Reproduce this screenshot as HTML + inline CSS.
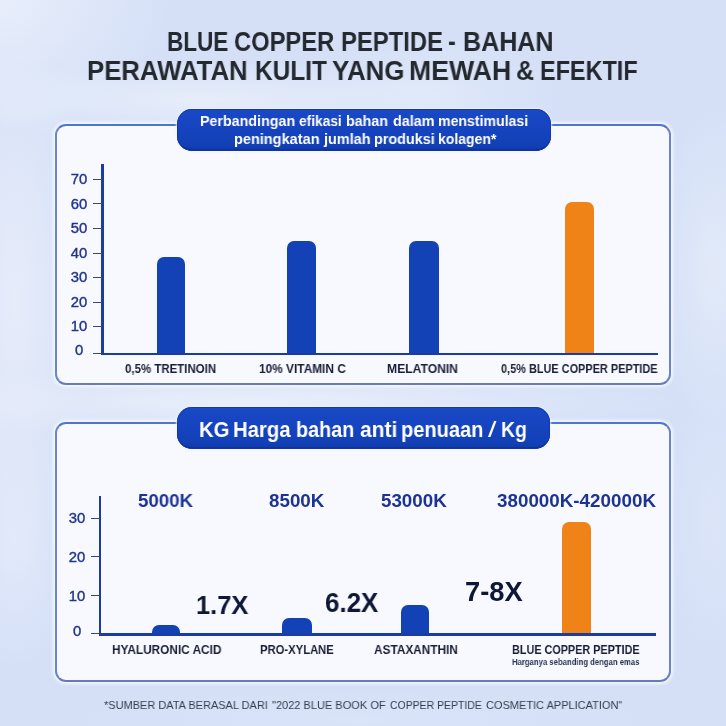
<!DOCTYPE html>
<html><head><meta charset="utf-8">
<style>
*{margin:0;padding:0;box-sizing:border-box}
html,body{width:726px;height:726px;overflow:hidden}
body{position:relative;font-family:"Liberation Sans",sans-serif;
background:
 radial-gradient(ellipse 170px 130px at 0px 0px, rgba(232,238,251,1), rgba(232,238,251,0)),
 radial-gradient(ellipse 300px 40px at 200px 100px, rgba(230,237,250,1), rgba(230,237,250,0)),
 radial-gradient(ellipse 130px 60px at 430px 95px, rgba(224,233,249,0.9), rgba(224,233,249,0)),
 radial-gradient(ellipse 70px 280px at 15px 300px, rgba(231,236,250,1), rgba(231,236,250,0)),
 radial-gradient(ellipse 60px 130px at 15px 540px, rgba(226,233,250,1), rgba(226,233,250,0)),
 radial-gradient(ellipse 60px 160px at 715px 270px, rgba(226,234,249,1), rgba(226,234,249,0)),
 radial-gradient(ellipse 50px 130px at 715px 520px, rgba(220,229,248,1), rgba(220,229,248,0)),
 radial-gradient(ellipse 430px 34px at 250px 402px, rgba(233,239,250,1), rgba(233,239,250,0)),
 radial-gradient(ellipse 300px 30px at 360px 720px, rgba(217,228,249,1), rgba(217,228,249,0)),
 #d5e0f7;}
.card{position:absolute;border:2px solid;border-color:#4e76cf #6c83c8 #677abd #6a86c5;border-radius:11px;background:#f8f9fe;box-shadow:0 0 3px 2px rgba(245,248,255,0.9)}
.pill{position:absolute;border-radius:15px;background:linear-gradient(180deg,#1a49c6 0%,#1644c0 45%,#1240b6 85%,#0f3aa8 100%);box-shadow:inset 0 0 0 1px rgba(20,55,170,0.9),inset 0 -1.5px 0 rgba(8,35,130,0.7),0 0 2px 1px rgba(240,244,255,0.8)}
.ax{position:absolute;background:#1c3ca5}
.tk{position:absolute;background:#3a4682;height:1.2px;width:9px}
.bar{position:absolute;background:#1341b6;border-radius:7px 7px 0 0}
.bar.o{background:#ef8318}
.t{position:absolute;white-space:nowrap;transform-origin:0 0;will-change:transform}
</style></head><body>
<div class="card" style="left:54.6px;top:124.1px;width:616.3px;height:260.7px"></div>
<div class="card" style="left:54.7px;top:421.9px;width:616px;height:260.4px"></div>
<div class="pill" style="left:177px;top:109.3px;width:373.5px;height:42px"></div>
<div class="pill" style="left:177px;top:407px;width:373px;height:41.6px"></div>
<!-- chart 1 bars -->
<div class="bar" style="left:156.9px;top:256.9px;width:28.5px;height:97px"></div>
<div class="bar" style="left:287.2px;top:241.1px;width:28.9px;height:113px"></div>
<div class="bar" style="left:409.4px;top:241.1px;width:29.2px;height:113px"></div>
<div class="bar o" style="left:564.8px;top:202.4px;width:29.1px;height:152px"></div>
<!-- chart 1 axes -->
<div class="ax" style="left:101.3px;top:164.4px;width:2.5px;height:190.9px"></div>
<div class="ax" style="left:101.3px;top:353px;width:557px;height:2.3px"></div>
<!-- chart 2 bars -->
<div class="bar" style="left:152.1px;top:625.25px;width:28px;height:9px"></div>
<div class="bar" style="left:282.2px;top:618px;width:29.5px;height:16px"></div>
<div class="bar" style="left:400.5px;top:604.9px;width:28.9px;height:29px"></div>
<div class="bar o" style="left:561.6px;top:521.8px;width:29.1px;height:112px"></div>
<!-- chart 2 axes -->
<div class="ax" style="left:99.1px;top:496px;width:2.1px;height:139.6px"></div>
<div class="ax" style="left:99.1px;top:633.4px;width:556.7px;height:2.2px"></div>
<div class="tk" style="left:92.8px;top:352.90px;width:9.5px"></div>
<div class="tk" style="left:92.8px;top:326.30px;width:9.5px"></div>
<div class="tk" style="left:92.8px;top:301.70px;width:9.5px"></div>
<div class="tk" style="left:92.8px;top:277.10px;width:9.5px"></div>
<div class="tk" style="left:92.8px;top:252.50px;width:9.5px"></div>
<div class="tk" style="left:92.8px;top:227.90px;width:9.5px"></div>
<div class="tk" style="left:92.8px;top:203.30px;width:9.5px"></div>
<div class="tk" style="left:92.8px;top:178.70px;width:9.5px"></div>
<div class="tk" style="left:90.5px;top:633.30px;width:9.5px"></div>
<div class="tk" style="left:90.5px;top:595.00px;width:9.5px"></div>
<div class="tk" style="left:90.5px;top:556.30px;width:9.5px"></div>
<div class="tk" style="left:90.5px;top:517.50px;width:9.5px"></div>
<div class="t" id="t1_0" style="left:166.60px;top:28.00px;font-size:27.62px;line-height:27.62px;font-weight:700;color:#24282f;transform:scaleX(0.8156);">BLUE</div>
<div class="t" id="t1_1" style="left:234.00px;top:28.00px;font-size:27.62px;line-height:27.62px;font-weight:700;color:#24282f;transform:scaleX(0.8592);">COPPER</div>
<div class="t" id="t1_2" style="left:340.90px;top:28.00px;font-size:27.62px;line-height:27.62px;font-weight:700;color:#24282f;transform:scaleX(0.8635);">PEPTIDE</div>
<div class="t" id="t1_3" style="left:447.90px;top:28.00px;font-size:27.62px;line-height:27.62px;font-weight:700;color:#24282f;transform:scaleX(0.8382);">-</div>
<div class="t" id="t1_4" style="left:463.10px;top:28.00px;font-size:27.62px;line-height:27.62px;font-weight:700;color:#24282f;transform:scaleX(0.9074);">BAHAN</div>
<div class="t" id="t2_0" style="left:87.20px;top:57.00px;font-size:27.62px;line-height:27.62px;font-weight:700;color:#24282f;transform:scaleX(0.9326);">PERAWATAN</div>
<div class="t" id="t2_1" style="left:255.40px;top:57.00px;font-size:27.62px;line-height:27.62px;font-weight:700;color:#24282f;transform:scaleX(0.8838);">KULIT</div>
<div class="t" id="t2_2" style="left:332.00px;top:57.00px;font-size:27.62px;line-height:27.62px;font-weight:700;color:#24282f;transform:scaleX(0.9382);">YANG</div>
<div class="t" id="t2_3" style="left:408.80px;top:57.00px;font-size:27.62px;line-height:27.62px;font-weight:700;color:#24282f;transform:scaleX(0.9647);">MEWAH</div>
<div class="t" id="t2_4" style="left:516.00px;top:57.00px;font-size:27.62px;line-height:27.62px;font-weight:700;color:#24282f;transform:scaleX(0.9078);">&amp;</div>
<div class="t" id="t2_5" style="left:539.90px;top:57.00px;font-size:27.62px;line-height:27.62px;font-weight:700;color:#24282f;transform:scaleX(0.8483);">EFEKTIF</div>
<div class="t" id="p1a_0" style="left:199.60px;top:114.00px;font-size:14.77px;line-height:14.77px;font-weight:700;color:#ffffff;transform:scaleX(0.9660);">Perbandingan</div>
<div class="t" id="p1a_1" style="left:299.20px;top:114.00px;font-size:14.77px;line-height:14.77px;font-weight:700;color:#ffffff;transform:scaleX(0.9291);">efikasi</div>
<div class="t" id="p1a_2" style="left:346.10px;top:114.00px;font-size:14.77px;line-height:14.77px;font-weight:700;color:#ffffff;transform:scaleX(0.9644);">bahan</div>
<div class="t" id="p1a_3" style="left:392.60px;top:114.00px;font-size:14.77px;line-height:14.77px;font-weight:700;color:#ffffff;transform:scaleX(0.9740);">dalam</div>
<div class="t" id="p1a_4" style="left:437.90px;top:114.00px;font-size:14.77px;line-height:14.77px;font-weight:700;color:#ffffff;transform:scaleX(0.9559);">menstimulasi</div>
<div class="t" id="p1b_0" style="left:234.10px;top:132.00px;font-size:14.77px;line-height:14.77px;font-weight:700;color:#ffffff;transform:scaleX(0.9836);">peningkatan</div>
<div class="t" id="p1b_1" style="left:323.70px;top:132.00px;font-size:14.77px;line-height:14.77px;font-weight:700;color:#ffffff;transform:scaleX(0.9810);">jumlah</div>
<div class="t" id="p1b_2" style="left:373.90px;top:132.00px;font-size:14.77px;line-height:14.77px;font-weight:700;color:#ffffff;transform:scaleX(0.9739);">produksi</div>
<div class="t" id="p1b_3" style="left:437.70px;top:132.00px;font-size:14.77px;line-height:14.77px;font-weight:700;color:#ffffff;transform:scaleX(0.9493);">kolagen*</div>
<div class="t" id="p2_0" style="left:198.70px;top:419.00px;font-size:22.49px;line-height:22.49px;font-weight:700;color:#ffffff;transform:scaleX(0.9003);">KG</div>
<div class="t" id="p2_1" style="left:232.80px;top:419.00px;font-size:22.49px;line-height:22.49px;font-weight:700;color:#ffffff;transform:scaleX(0.9033);">Harga</div>
<div class="t" id="p2_2" style="left:296.10px;top:419.00px;font-size:22.49px;line-height:22.49px;font-weight:700;color:#ffffff;transform:scaleX(0.8797);">bahan</div>
<div class="t" id="p2_3" style="left:359.80px;top:419.00px;font-size:22.49px;line-height:22.49px;font-weight:700;color:#ffffff;transform:scaleX(0.9337);">anti</div>
<div class="t" id="p2_4" style="left:401.30px;top:419.00px;font-size:22.49px;line-height:22.49px;font-weight:700;color:#ffffff;transform:scaleX(0.8911);">penuaan</div>
<div class="t" id="p2_5" style="left:487.50px;top:419.00px;font-size:22.49px;line-height:22.49px;font-weight:400;color:#ffffff;transform:scaleX(1.3549);">/</div>
<div class="t" id="p2_6" style="left:500.90px;top:419.00px;font-size:22.49px;line-height:22.49px;font-weight:700;color:#ffffff;transform:scaleX(0.8647);">Kg</div>
<div class="t" id="l1" style="left:124.80px;top:363.00px;font-size:12.21px;line-height:12.21px;font-weight:700;color:#181e37;transform:scaleX(0.9392);">0,5% TRETINOIN</div>
<div class="t" id="l2" style="left:258.80px;top:363.00px;font-size:12.21px;line-height:12.21px;font-weight:700;color:#181e37;transform:scaleX(0.9728);">10% VITAMIN C</div>
<div class="t" id="l3" style="left:387.00px;top:363.00px;font-size:12.21px;line-height:12.21px;font-weight:700;color:#181e37;transform:scaleX(0.9929);">MELATONIN</div>
<div class="t" id="l4" style="left:501.00px;top:363.00px;font-size:12.21px;line-height:12.21px;font-weight:700;color:#181e37;transform:scaleX(0.8949);">0,5% BLUE COPPER PEPTIDE</div>
<div class="t" id="m1" style="left:112.20px;top:643.00px;font-size:13.08px;line-height:13.08px;font-weight:700;color:#181e37;transform:scaleX(0.9034);">HYALURONIC ACID</div>
<div class="t" id="m2" style="left:260.30px;top:643.00px;font-size:13.08px;line-height:13.08px;font-weight:700;color:#181e37;transform:scaleX(0.8600);">PRO-XYLANE</div>
<div class="t" id="m3" style="left:374.20px;top:643.00px;font-size:13.08px;line-height:13.08px;font-weight:700;color:#181e37;transform:scaleX(0.9044);">ASTAXANTHIN</div>
<div class="t" id="m4" style="left:512.10px;top:643.00px;font-size:13.08px;line-height:13.08px;font-weight:700;color:#181e37;transform:scaleX(0.8282);">BLUE COPPER PEPTIDE</div>
<div class="t" id="m5" style="left:512.10px;top:657.00px;font-size:9.80px;line-height:9.80px;font-weight:700;color:#2a3555;transform:scaleX(0.7883);">Harganya sebanding dengan emas</div>
<div class="t" id="q1" style="left:137.80px;top:492.00px;font-size:18.90px;line-height:18.90px;font-weight:700;color:#1c3394;transform:scaleX(0.9889);">5000K</div>
<div class="t" id="q2" style="left:269.00px;top:492.00px;font-size:18.75px;line-height:18.75px;font-weight:700;color:#1c3394;transform:scaleX(1.0019);">8500K</div>
<div class="t" id="q3" style="left:381.30px;top:492.00px;font-size:18.75px;line-height:18.75px;font-weight:700;color:#1c3394;transform:scaleX(0.9939);">53000K</div>
<div class="t" id="q4" style="left:496.50px;top:492.00px;font-size:18.75px;line-height:18.75px;font-weight:700;color:#1c3394;transform:scaleX(1.0032);">380000K-420000K</div>
<div class="t" id="x1" style="left:195.90px;top:592.00px;font-size:26.60px;line-height:26.60px;font-weight:700;color:#0f1736;transform:scaleX(0.9556);">1.7X</div>
<div class="t" id="x2" style="left:325.20px;top:590.00px;font-size:26.89px;line-height:26.89px;font-weight:700;color:#0f1736;transform:scaleX(0.9649);">6.2X</div>
<div class="t" id="x3" style="left:464.90px;top:579.00px;font-size:26.74px;line-height:26.74px;font-weight:700;color:#0f1736;transform:scaleX(1.0219);">7-8X</div>
<div class="t" id="f_0" style="left:104.10px;top:699.00px;font-size:11.77px;line-height:11.77px;font-weight:400;color:#363c4a;transform:scaleX(0.9326);">*SUMBER DATA BERASAL DARI</div>
<div class="t" id="f_1" style="left:271.90px;top:699.00px;font-size:11.77px;line-height:11.77px;font-weight:400;color:#363c4a;transform:scaleX(0.9372);">"2022 BLUE BOOK OF</div>
<div class="t" id="f_2" style="left:390.20px;top:699.00px;font-size:11.77px;line-height:11.77px;font-weight:400;color:#363c4a;transform:scaleX(0.8884);">COPPER PEPTIDE</div>
<div class="t" id="f_3" style="left:485.60px;top:699.00px;font-size:11.77px;line-height:11.77px;font-weight:400;color:#363c4a;transform:scaleX(0.9349);">COSMETIC APPLICATION"</div>
<div class="t" id="ya0" style="left:79.00px;top:343.00px;font-size:14.83px;line-height:14.83px;font-weight:400;color:#20358f;transform:translateX(-50%);-webkit-text-stroke:0.40px #20358f;">0</div>
<div class="t" id="ya1" style="left:79.00px;top:319.00px;font-size:14.83px;line-height:14.83px;font-weight:400;color:#20358f;transform:translateX(-50%);-webkit-text-stroke:0.40px #20358f;">10</div>
<div class="t" id="ya2" style="left:79.00px;top:295.00px;font-size:14.83px;line-height:14.83px;font-weight:400;color:#20358f;transform:translateX(-50%);-webkit-text-stroke:0.40px #20358f;">20</div>
<div class="t" id="ya3" style="left:79.00px;top:270.00px;font-size:14.83px;line-height:14.83px;font-weight:400;color:#20358f;transform:translateX(-50%);-webkit-text-stroke:0.40px #20358f;">30</div>
<div class="t" id="ya4" style="left:79.00px;top:246.00px;font-size:14.83px;line-height:14.83px;font-weight:400;color:#20358f;transform:translateX(-50%);-webkit-text-stroke:0.40px #20358f;">40</div>
<div class="t" id="ya5" style="left:79.00px;top:221.00px;font-size:14.83px;line-height:14.83px;font-weight:400;color:#20358f;transform:translateX(-50%);-webkit-text-stroke:0.40px #20358f;">50</div>
<div class="t" id="ya6" style="left:79.00px;top:197.00px;font-size:14.83px;line-height:14.83px;font-weight:400;color:#20358f;transform:translateX(-50%);-webkit-text-stroke:0.40px #20358f;">60</div>
<div class="t" id="ya7" style="left:79.00px;top:172.00px;font-size:14.83px;line-height:14.83px;font-weight:400;color:#20358f;transform:translateX(-50%);-webkit-text-stroke:0.40px #20358f;">70</div>
<div class="t" id="yb0" style="left:76.60px;top:624.00px;font-size:14.83px;line-height:14.83px;font-weight:400;color:#20358f;transform:translateX(-50%);-webkit-text-stroke:0.40px #20358f;">0</div>
<div class="t" id="yb1" style="left:76.60px;top:589.00px;font-size:14.83px;line-height:14.83px;font-weight:400;color:#20358f;transform:translateX(-50%);-webkit-text-stroke:0.40px #20358f;">10</div>
<div class="t" id="yb2" style="left:76.60px;top:550.00px;font-size:14.83px;line-height:14.83px;font-weight:400;color:#20358f;transform:translateX(-50%);-webkit-text-stroke:0.40px #20358f;">20</div>
<div class="t" id="yb3" style="left:76.60px;top:511.00px;font-size:14.83px;line-height:14.83px;font-weight:400;color:#20358f;transform:translateX(-50%);-webkit-text-stroke:0.40px #20358f;">30</div>
</body></html>
